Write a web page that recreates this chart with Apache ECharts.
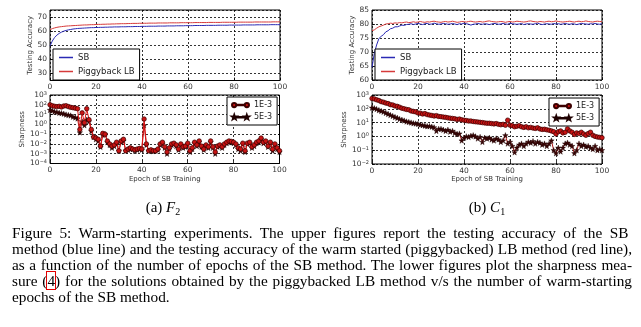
<!DOCTYPE html>
<html><head><meta charset="utf-8">
<script src="https://cdn.jsdelivr.net/npm/echarts@6/dist/echarts.min.js"></script>
<style>
html,body{margin:0;padding:0;background:#fff;width:641px;height:327px;overflow:hidden;}
#chart{position:absolute;left:0;top:0;width:641px;height:327px;}
.cap{position:absolute;left:12px;font-family:'Liberation Serif',serif;font-size:15.3px;color:#000;white-space:nowrap;line-height:16px;}
.sub{position:absolute;font-family:'Liberation Serif',serif;font-size:15px;color:#000;white-space:nowrap;line-height:16px;}
.sub sub{font-size:10px;vertical-align:-3px;}
.box4{outline:1px solid #e00000;}
</style></head><body>
<div id="chart"></div>
<script>
// ---------- data ----------
const xTicks = [0, 20, 40, 60, 80, 100];
const f2SB = [49.5,53.0,55.5,57.2,58.4,59.3,60.0,60.5,60.9,61.2,61.5,61.7,61.9,62.0,62.1,62.2,62.3,62.4,62.5,62.5,62.6,
62.6,62.7,62.7,62.8,62.8,62.9,62.9,63.0,63.0,63.0,
63.1,63.1,63.1,63.2,63.2,63.2,63.3,63.3,63.3,63.4,
63.4,63.4,63.5,63.5,63.5,63.5,63.6,63.6,63.6,63.6,
63.7,63.7,63.7,63.7,63.8,63.8,63.8,63.8,63.9,63.9,
63.9,63.9,64.0,64.0,64.0,64.0,64.0,64.1,64.1,64.1,
64.1,64.1,64.2,64.2,64.2,64.2,64.2,64.3,64.3,64.3,
64.3,64.3,64.3,64.4,64.4,64.4,64.4,64.4,64.4,64.5,
64.5,64.5,64.5,64.5,64.5,64.6,64.6,64.6,64.6,64.6];
const f2LB = [61.0,61.8,62.3,62.7,63.0,63.2,63.4,63.6,63.7,63.8,63.9,
64.0,64.1,64.2,64.3,64.4,64.4,64.5,64.6,64.6,64.7,
64.8,64.8,64.9,64.9,65.0,65.0,65.1,65.1,65.2,65.2,
65.3,65.3,65.3,65.4,65.4,65.5,65.5,65.5,65.6,65.6,
65.6,65.6,65.7,65.7,65.7,65.7,65.8,65.8,65.8,65.8,
65.8,65.9,65.9,65.9,65.9,65.9,66.0,66.0,66.0,66.0,
66.0,66.0,66.1,66.1,66.1,66.1,66.1,66.1,66.2,66.2,
66.2,66.2,66.2,66.2,66.3,66.3,66.3,66.3,66.3,66.3,
66.3,66.4,66.4,66.4,66.4,66.4,66.4,66.4,66.5,66.5,
66.5,66.5,66.5,66.5,66.5,66.5,66.6,66.6,66.6,66.6];
const c1SB = [64.5,69.5,72.5,74.8,75.6,76.2,77.2,77.6,78.3,78.5,79.0,79.0,79.3,79.6,79.5,79.8,79.9,80.1,79.8,80.0,80.2,
80.0,79.8,80.1,80.2,79.9,80.0,80.3,80.1,79.9,80.0,
80.2,80.1,79.9,80.0,80.2,80.0,79.8,80.1,80.0,80.3,
80.1,79.9,79.6,79.9,80.0,80.2,80.0,79.9,80.1,80.0,
79.8,80.0,80.2,80.1,79.9,80.0,80.2,80.0,79.9,80.3,
80.1,80.0,79.9,80.0,80.2,79.8,80.0,80.1,80.0,79.9,
80.1,80.3,80.0,79.8,80.0,80.1,80.0,79.9,80.2,80.0,
80.1,79.9,80.0,80.2,80.0,79.9,80.1,80.0,79.8,80.0,
80.2,80.1,80.0,79.9,80.1,80.0,80.2,80.0,79.9,80.1];
const c1LB = [77.6,77.9,78.5,79.0,79.3,79.6,80.0,80.1,80.3,80.2,80.4,
80.3,80.5,80.4,80.6,80.7,80.5,80.6,80.8,80.6,80.7,
80.9,80.7,80.6,80.8,80.7,80.9,81.0,80.8,80.7,80.6,
80.8,80.9,80.7,80.8,81.0,80.8,80.6,80.7,80.9,80.8,
80.7,80.9,81.0,80.8,80.7,80.8,80.9,80.7,80.8,81.0,
81.1,80.9,80.8,80.7,80.8,80.9,80.8,80.6,80.8,80.9,
80.7,80.8,81.0,80.9,80.8,80.7,80.8,81.0,81.1,80.9,
80.8,80.7,80.9,80.8,80.7,80.9,81.0,80.8,80.9,81.1,
80.9,80.8,80.7,80.8,80.9,81.0,80.8,80.7,80.9,81.0,
80.8,80.9,81.1,80.9,80.8,80.7,80.9,81.0,80.9,80.8];
const f2Sharp1 = [100,80,70,65,70,60,75,80,65,55,50,45,40,
0.3,15,1.5,40,3,0.3,0.05,0.04,
0.03,0.006,0.12,0.1,0.02,0.01,0.006,0.008,0.015,0.002,
0.02,0.03,0.002,0.003,0.004,0.003,0.0025,0.003,0.0035,0.003,
3.5,0.01,0.002,0.0025,0.002,0.002,0.003,0.01,0.015,0.005,
0.0015,0.004,0.01,0.012,0.008,0.003,0.01,0.005,0.006,0.012,
0.002,0.004,0.015,0.008,0.02,0.006,0.003,0.008,0.005,0.02,
0.005,0.0015,0.006,0.008,0.005,0.01,0.015,0.02,0.018,0.015,
0.01,0.004,0.003,0.012,0.002,0.012,0.015,0.005,0.008,0.015,
0.02,0.04,0.015,0.02,0.006,0.015,0.003,0.01,0.004,0.002];
const f2Sharp5 = [30,25,20,18,15,14,12,10,9,8,6,5,4,
0.15,2,0.8,3,2,0.2,0.05,0.03,
0.02,0.005,0.08,0.1,0.015,0.008,0.004,0.006,0.01,0.002,
0.015,0.02,0.002,0.0025,0.003,0.003,0.002,0.0025,0.003,0.0025,
0.8,0.008,0.002,0.002,0.0018,0.002,0.0025,0.008,0.01,0.004,
0.001,0.003,0.008,0.01,0.006,0.0025,0.008,0.004,0.005,0.01,
0.0015,0.003,0.012,0.006,0.015,0.005,0.0025,0.006,0.004,0.015,
0.004,0.001,0.005,0.006,0.004,0.008,0.012,0.015,0.015,0.012,
0.008,0.003,0.002,0.01,0.0015,0.01,0.012,0.004,0.006,0.012,
0.015,0.03,0.012,0.015,0.005,0.012,0.002,0.008,0.003,0.0015];
const c1Sharp1 = [560,520,450,400,330,300,260,240,200,190,160,
150,130,110,100,90,85,70,65,60,50,
48,42,45,38,35,33,30,32,28,27,
25,24,22,21,20,19,17,18,16,15,
14,13,13,12,11.5,11,10.5,10,9.5,9,
9,8.5,8,8.5,7.5,7,7.5,6.5,15,6.5,
6,5,5.5,6,5,4.5,5,4.2,4.5,4,
3.8,4.2,3.5,3.2,3.3,3,2.8,2.5,2.2,1.5,
2.2,2.5,1.8,2,3.5,2.5,2,1.4,1.8,1.6,
2,1.5,1.2,1.6,2,1.2,1,0.9,0.85,0.8];
const c1Sharp5 = [120,110,95,80,70,60,50,42,35,30,25,
22,18,16,14,12,11,10,9,8.5,8,
7,6.5,6,5.5,5.5,5,4.5,2.5,3.5,3.5,
3,2.5,3,2.2,2.5,1.8,1.5,1.6,0.5,0.8,
1,0.9,1.1,1.2,1,0.7,0.9,0.4,0.8,0.7,
0.8,0.6,0.5,0.7,0.6,0.4,0.5,1.2,0.3,0.4,
0.2,0.07,0.15,0.25,0.3,0.2,0.3,0.4,0.35,0.45,
0.3,0.4,0.35,0.25,0.3,0.2,0.3,0.5,0.1,0.06,
0.15,0.08,0.15,0.3,0.35,0.25,0.2,0.06,0.1,0.3,
0.2,0.25,0.18,0.2,0.15,0.12,0.2,0.1,0.12,0.1];
const subCaptions = ['(a) <i>F</i><sub>2</sub>', '(b) <i>C</i><sub>1</sub>'];
const captionLines = [
 'Figure 5: Warm-starting experiments.  The upper figures report the testing accuracy of the SB',
 'method (blue line) and the testing accuracy of the warm started (piggybacked) LB method (red line),',
 'as a function of the number of epochs of the SB method. The lower figures plot the sharpness mea-',
 'sure (<span class="box4">4</span>) for the solutions obtained by the piggybacked LB method v/s the number of warm-starting',
 'epochs of the SB method.'
];

// ---------- styles ----------
const FONT = 'DejaVu Sans';
const LBL = '#333';
const BLUE = '#2a2ab4', RED = '#d63a3a';
const STAR = 'path://M5,0.5L6.06,3.54L9.28,3.61L6.71,5.56L7.65,8.64L5,6.8L2.35,8.64L3.29,5.56L0.72,3.61L3.94,3.54Z';
const ICON_LINE = 'path://M0,0L28,0L28,3L0,3Z';
const ICON_CIRC = 'path://M1,5A4,4 0 1,1 9,5A4,4 0 1,1 1,5Z M9,4.3L25,4.3L25,5.7L9,5.7Z M25,5A4,4 0 1,1 33,5A4,4 0 1,1 25,5Z';
const ICON_STAR = 'path://M5,0.5L6.06,3.54L9.28,3.61L6.71,5.56L7.65,8.64L5,6.8L2.35,8.64L3.29,5.56L0.72,3.61L3.94,3.54Z M8,4.4L26,4.4L26,5.6L8,5.6Z M29,0.5L30.06,3.54L33.28,3.61L30.71,5.56L31.65,8.64L29,6.8L26.35,8.64L27.29,5.56L24.72,3.61L27.94,3.54Z';

const split = {show:true, lineStyle:{color:'#000', type:[2,2], width:0.8}};
function xAx(g, named){
  return {gridIndex:g, type:'value', min:xTicks[0], max:xTicks[xTicks.length-1], interval:xTicks[1]-xTicks[0],
    axisLine:{show:false}, axisTick:{show:true, inside:true, length:3, lineStyle:{color:'#000', width:0.8}},
    axisLabel:{fontSize:7.5, color:LBL, margin:3, fontFamily:FONT},
    splitLine:split,
    name: named ? 'Epoch of SB Training' : '', nameLocation:'middle', nameGap:11,
    nameTextStyle:{fontSize:7, color:LBL, fontFamily:FONT}};
}
function logLabel(v){
  const e = Math.round(Math.log10(v));
  return '{b|10}{s|' + (e < 0 ? '\u2212' + (-e) : e) + '}';
}
const rich = {b:{fontSize:7.5, color:LBL, fontFamily:FONT, verticalAlign:'bottom', lineHeight:8},
              s:{fontSize:5, color:LBL, fontFamily:FONT, verticalAlign:'top', lineHeight:8}};
function yLin(g, min, max, interval, hideEnds){
  const a = {gridIndex:g, type:'value', min:min, max:max,
    axisLine:{show:false}, axisTick:{show:true, inside:true, length:3, lineStyle:{color:'#000', width:0.8}},
    axisLabel:{fontSize:7.5, color:LBL, margin:3, fontFamily:FONT, showMinLabel:!hideEnds, showMaxLabel:!hideEnds},
    splitLine:split, name:'Testing Accuracy', nameLocation:'middle', nameGap:16,
    nameTextStyle:{fontSize:7, color:LBL, fontFamily:FONT}};
  if (interval) a.interval = interval;
  return a;
}
function yLog(g, min, max){
  return {gridIndex:g, type:'log', logBase:10, min:min, max:max, interval:1,
    axisLine:{show:false}, axisTick:{show:true, inside:true, length:3, lineStyle:{color:'#000', width:0.8}},
    axisLabel:{formatter:logLabel, rich:rich, margin:3, interval:0, hideOverlap:false,
               showMinLabel:true, showMaxLabel:true},
    splitLine:split, name:'Sharpness', nameLocation:'middle', nameGap:21,
    nameTextStyle:{fontSize:7, color:LBL, fontFamily:FONT}};
}
const pairs = arr => arr.map((v, i) => [i, v]);
function accSeries(name, data, g, color){
  return {name:name, type:'line', xAxisIndex:g, yAxisIndex:g, data:pairs(data), symbol:'none',
    lineStyle:{color:color, width:1}, itemStyle:{color:color}, z:3};
}
function sharp1(data, g){
  return {name:'1E-3', type:'line', xAxisIndex:g, yAxisIndex:g, data:pairs(data), symbol:'circle', symbolSize:4.5,
    showAllSymbol:true, lineStyle:{color:'#e01414', width:1},
    itemStyle:{color:'#c81414', borderColor:'#3c0000', borderWidth:0.7}, z:4};
}
function sharp5(data, g){
  return {name:'5E-3', type:'line', xAxisIndex:g, yAxisIndex:g, data:pairs(data), symbol:STAR, symbolSize:5.5,
    showAllSymbol:true, lineStyle:{color:'#b01818', width:1},
    itemStyle:{color:'#3a0606', borderColor:'#1e0000', borderWidth:0.4}, z:3};
}
function accLegend(left){
  return {left:left, top:49, orient:'vertical',
    data:[{name:'SB', icon:ICON_LINE}, {name:'Piggyback LB', icon:ICON_LINE}],
    itemWidth:14, itemHeight:1.5, itemGap:5,
    padding:[4,5,4,6], borderColor:'#000', borderWidth:1, borderRadius:0, backgroundColor:'#fff',
    selectedMode:false,
    textStyle:{fontSize:8.5, fontFamily:FONT, color:'#222'}};
}
function sharpLegend(left, top){
  return {left:left, top:top, orient:'vertical',
    data:[{name:'1E-3', icon:ICON_CIRC}, {name:'5E-3', icon:ICON_STAR}],
    itemWidth:17, itemHeight:5, itemGap:4, padding:[4,5,4,4],
    borderColor:'#000', borderWidth:1, borderRadius:0, backgroundColor:'#fff', selectedMode:false,
    textStyle:{fontSize:8, fontFamily:FONT, color:'#222'}};
}
const gridBox = {show:true, borderColor:'#000', borderWidth:1, backgroundColor:'transparent'};
const option = {
  animation:false,
  grid:[
    Object.assign({left:50, top:10, width:230, height:70.5}, gridBox),
    Object.assign({left:372, top:10, width:230, height:70}, gridBox),
    Object.assign({left:50, top:95, width:229.5, height:68.5}, gridBox),
    Object.assign({left:372, top:95, width:230, height:69}, gridBox)
  ],
  xAxis:[xAx(0,false), xAx(1,false), xAx(2,true), xAx(3,true)],
  yAxis:[yLin(0,25,75,null,true), yLin(1,60,85,5,false), yLog(2,1e-4,1e3), yLog(3,1e-2,1e3)],
  legend:[accLegend(53), accLegend(375), sharpLegend(227,97), sharpLegend(549,98)],
  series:[
    accSeries('SB', f2SB, 0, BLUE), accSeries('Piggyback LB', f2LB, 0, RED),
    accSeries('SB', c1SB, 1, BLUE), accSeries('Piggyback LB', c1LB, 1, RED),
    sharp5(f2Sharp5, 2), sharp1(f2Sharp1, 2),
    sharp5(c1Sharp5, 3), sharp1(c1Sharp1, 3)
  ]
};
const chart = echarts.init(document.getElementById('chart'), null, {renderer:'canvas'});
chart.setOption(option);

// ---------- captions ----------
const subPos = [[163, 207], [487, 207]];
subCaptions.forEach((h, i) => {
  const d = document.createElement('div'); d.className = 'sub'; d.innerHTML = h;
  document.body.appendChild(d);
  const w = d.getBoundingClientRect().width;
  d.style.left = (subPos[i][0] - w / 2) + 'px'; d.style.top = (subPos[i][1] - 8) + 'px';
});
const capTop = [233, 249, 265, 281, 297];
const capWidth = 620;
captionLines.forEach((h, i) => {
  const d = document.createElement('div'); d.className = 'cap'; d.style.top = (capTop[i] - 8) + 'px';
  const s = document.createElement('span'); s.innerHTML = h; d.appendChild(s); document.body.appendChild(d);
  if (i < captionLines.length - 1) {
    const w = s.getBoundingClientRect().width;
    const n = (s.textContent.match(/ /g) || []).length;
    s.style.wordSpacing = ((capWidth - w) / n) + 'px';
  }
});
</script>
</body></html>
